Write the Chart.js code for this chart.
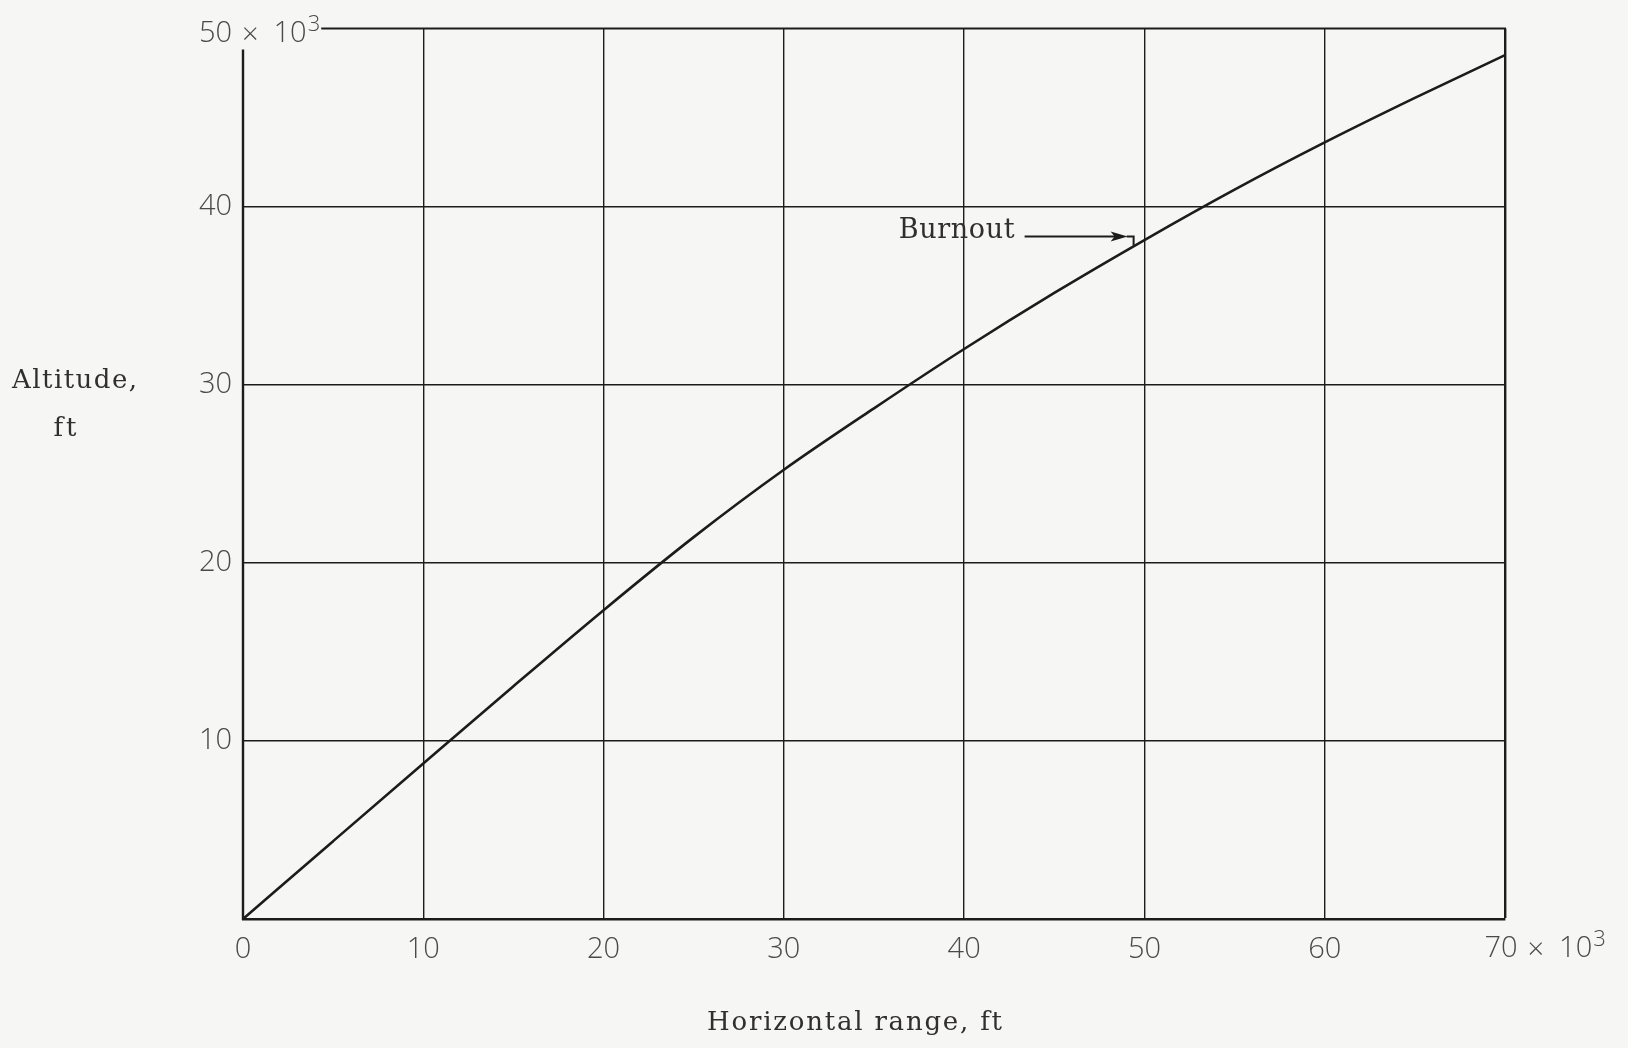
<!DOCTYPE html>
<html>
<head>
<meta charset="utf-8">
<title>Altitude vs horizontal range</title>
<script src="https://cdn.jsdelivr.net/npm/chart.js@4/dist/chart.umd.min.js"></script>
<style>
  html, body { margin: 0; padding: 0; background: #f6f6f4; }
  #wrap { width: 1628px; height: 1048px; position: relative; }
</style>
</head>
<body>
<div id="wrap"><canvas id="c" width="1628" height="1048"></canvas></div>
<script>
// Trajectory: horizontal range and altitude, both in thousands of feet
const rangeK    = [0, 5, 10, 15, 20, 25, 30, 35, 40, 45, 50, 55, 60, 65, 70];
const altitudeK = [0, 4.37, 8.73, 13.07, 17.34, 21.44, 25.22, 28.67, 32.0, 35.15, 38.12, 40.95, 43.6, 46.1, 48.5];

// Burnout point on the trajectory (thousands of feet)
const burnoutRange = 49.4;
const burnoutAltitude = 37.76;

// Axis ticks
const xTicks = [0, 10, 20, 30, 40, 50, 60, 70];
const yTicks = [10, 20, 30, 40, 50];

const labels = {
  yTitle: ['Altitude,', 'ft'],
  xTitle: 'Horizontal range, ft',
  burnout: 'Burnout',
  times: '\u00d7',
  multiplier: '10',
  exponent: '3'
};

const INK = '#1c1c1a';
const TICK_COLOR = '#4a4a48';
const NUM_FAMILY = '"Open Sans", "DejaVu Sans", sans-serif';
const TICK_FONT = '300 29px ' + NUM_FAMILY;
const SUP_FONT = '300 22px ' + NUM_FAMILY;
const TYPE_FAMILY = '"DejaVu Serif", "Liberation Serif", serif';

const points = rangeK.map((r, i) => ({ x: r, y: altitudeK[i] }));

// Typewriter-style line: spread the string out to a given overall width
function typeText(ctx, text, x, y, size, width, align) {
  ctx.save();
  ctx.font = size + 'px ' + TYPE_FAMILY;
  ctx.fillStyle = '#302f2d';
  ctx.textBaseline = 'middle';
  ctx.textAlign = 'left';
  const natural = ctx.measureText(text).width;
  const spacing = text.length > 1 ? (width - natural) / (text.length - 1) : 0;
  if ('letterSpacing' in ctx) ctx.letterSpacing = spacing.toFixed(2) + 'px';
  const w = ctx.measureText(text).width - ('letterSpacing' in ctx ? spacing : 0);
  let left = x;
  if (align === 'center') left = x - w / 2;
  else if (align === 'right') left = x - w;
  ctx.fillText(text, left, y);
  ctx.restore();
}

// Number followed by "× 10³"; number starts at x, vertical middle at y
function drawScaledNumber(ctx, num, x, y) {
  ctx.save();
  ctx.fillStyle = TICK_COLOR;
  ctx.textAlign = 'left';
  ctx.textBaseline = 'middle';
  ctx.font = TICK_FONT;
  ctx.fillText(num, x, y);
  let cx = x + ctx.measureText(num).width + 10;
  ctx.fillText(labels.times, cx, y + 2);
  cx += ctx.measureText(labels.times).width + 15;
  ctx.fillText(labels.multiplier, cx, y);
  cx += ctx.measureText(labels.multiplier).width + 1;
  ctx.font = SUP_FONT;
  ctx.fillText(labels.exponent, cx, y - 9);
  cx += ctx.measureText(labels.exponent).width;
  ctx.restore();
  return cx;
}

const decor = {
  id: 'figureDecor',
  beforeDraw(chart) {
    const ctx = chart.ctx;
    ctx.save();
    ctx.fillStyle = '#f6f6f4';
    ctx.fillRect(0, 0, chart.width, chart.height);
    ctx.restore();
  },
  afterDraw(chart) {
    const { ctx, chartArea: a, scales: { x, y } } = chart;
    ctx.save();

    // Last tick on each axis carries the "× 10³" multiplier
    ctx.font = TICK_FONT;
    const w50 = ctx.measureText('50').width;
    const topLabelEnd = drawScaledNumber(ctx, '50', a.left - 11 - w50, y.getPixelForValue(50) + 5);
    const w70 = ctx.measureText('70').width;
    drawScaledNumber(ctx, '70', x.getPixelForValue(70) - 4 - w70 / 2, a.bottom + 30);

    // Frame: top edge begins after its label, left edge leaves a gap at the corner
    ctx.strokeStyle = INK;
    ctx.lineCap = 'butt';
    ctx.lineWidth = 2;
    ctx.beginPath();
    ctx.moveTo(topLabelEnd + 1, a.top);
    ctx.lineTo(a.right + 1, a.top);
    ctx.stroke();
    ctx.lineWidth = 2.4;
    ctx.beginPath();
    ctx.moveTo(a.left, a.top + 21);
    ctx.lineTo(a.left, a.bottom + 1);
    ctx.stroke();

    // Axis titles
    typeText(ctx, labels.yTitle[0], 12, 381, 26, 125, 'left');
    typeText(ctx, labels.yTitle[1], 65, 429, 26, 23, 'center');
    typeText(ctx, labels.xTitle, 707, 1023, 26, 295, 'left');

    // Burnout callout with arrow and hook onto the curve
    const bx = x.getPixelForValue(burnoutRange);
    const by = y.getPixelForValue(burnoutAltitude);
    const ly = by - 10;
    typeText(ctx, labels.burnout, bx - 119, by - 15, 27, 116, 'right');
    ctx.strokeStyle = INK;
    ctx.lineWidth = 2;
    ctx.beginPath();
    ctx.moveTo(bx - 109, ly);
    ctx.lineTo(bx - 18, ly);
    ctx.stroke();
    ctx.fillStyle = INK;
    ctx.beginPath();
    ctx.moveTo(bx - 23, ly - 5);
    ctx.lineTo(bx - 6, ly);
    ctx.lineTo(bx - 23, ly + 5);
    ctx.lineTo(bx - 19, ly);
    ctx.closePath();
    ctx.fill();
    ctx.beginPath();
    ctx.moveTo(bx - 7, ly);
    ctx.lineTo(bx, ly);
    ctx.lineTo(bx, ly + 9);
    ctx.stroke();

    ctx.restore();
  }
};

new Chart(document.getElementById('c'), {
  type: 'line',
  data: {
    datasets: [{
      data: points,
      borderColor: INK,
      borderWidth: 2.6,
      pointRadius: 0,
      fill: false,
      cubicInterpolationMode: 'monotone'
    }]
  },
  options: {
    responsive: false,
    animation: false,
    events: [],
    layout: { padding: { top: 25, right: 123, bottom: 0, left: 0 } },
    plugins: { legend: { display: false }, tooltip: { enabled: false } },
    scales: {
      x: {
        type: 'linear',
        min: 0,
        max: 70,
        afterBuildTicks(scale) { scale.ticks = xTicks.map(v => ({ value: v })); },
        afterFit(scale) { scale.height = 129; },
        grid: {
          drawTicks: false,
          color: c => (c.tick && c.tick.value === 0) ? 'rgba(0,0,0,0)' : INK,
          lineWidth: c => (c.tick && c.tick.value === 70) ? 2.4 : 1.4
        },
        border: { display: true, color: INK, width: 2.6 },
        ticks: {
          padding: 13,
          color: TICK_COLOR,
          font: { family: NUM_FAMILY, size: 29, weight: '300' },
          callback: v => (v === 70 ? '' : String(v))
        }
      },
      y: {
        type: 'linear',
        min: 0,
        max: 50,
        afterBuildTicks(scale) { scale.ticks = [0].concat(yTicks).map(v => ({ value: v })); },
        afterFit(scale) { scale.width = 243; },
        grid: {
          drawTicks: false,
          color: c => (c.tick && (c.tick.value === 50 || c.tick.value === 0)) ? 'rgba(0,0,0,0)' : INK,
          lineWidth: 1.4
        },
        border: { display: false },
        ticks: {
          padding: 11,
          color: TICK_COLOR,
          font: { family: NUM_FAMILY, size: 29, weight: '300' },
          callback: v => (v === 0 || v === 50 ? '' : String(v))
        }
      }
    }
  },
  plugins: [decor]
});
</script>
</body>
</html>
